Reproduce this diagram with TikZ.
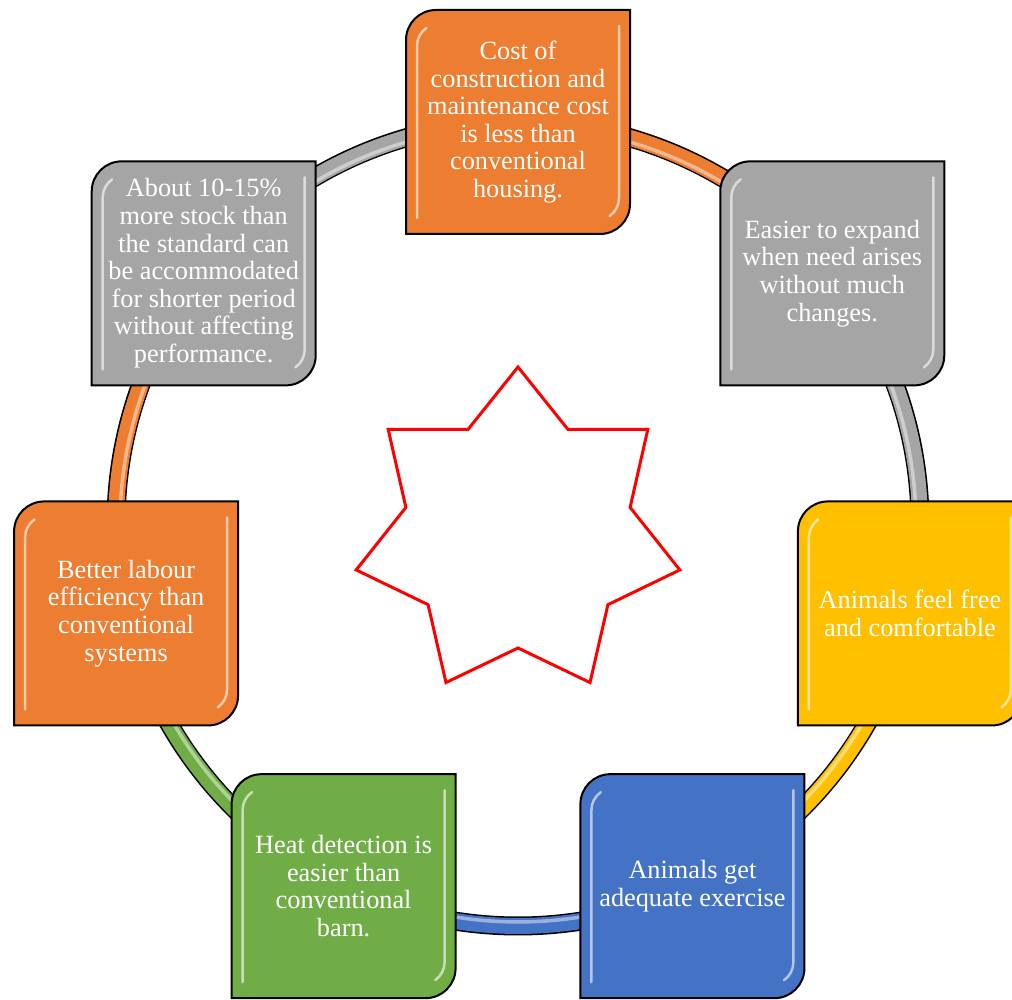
\documentclass[tikz,border=0pt]{standalone}
\usepackage{fontspec}
\setmainfont{Liberation Serif}
\usetikzlibrary{calc}
\definecolor{corange}{HTML}{ED7D31}
\definecolor{cgray}{HTML}{A5A5A5}
\definecolor{cyellow}{HTML}{FFC000}
\definecolor{cblue}{HTML}{4472C4}
\definecolor{cgreen}{HTML}{70AD47}
\tikzset{
  boxtext/.style={align=center, text=white, font=\fontsize{26.3}{27.6}\selectfont, inner sep=0pt},
  boxshape/.style={draw=black, line width=2pt},
  gloss/.style={draw=white, opacity=0.6, line width=2.5pt, line cap=round},
  ringout/.style={draw=black, line width=19pt},
  ringseg/.style={line width=16pt},
  ringhi/.style={draw=white, opacity=0.45, line width=3.5pt},
  starline/.style={draw=red, line width=3pt, line join=miter}
}
\begin{document}
\begin{tikzpicture}[x=1pt,y=1pt]
\clip (0,0) rectangle (1012,1000);
\fill[white] (0,0) rectangle (1012,1000);
\coordinate (C) at (518,476);
% ring
\draw[ringout] (C) circle[radius=402];
\foreach \k/\col in {0/corange,1/cgray,2/cyellow,3/cblue,4/cgreen,5/corange,6/cgray}{
  \pgfmathsetmacro\a{90-\k*360/7}
  \pgfmathsetmacro\b{\a-360/7}
  \draw[ringseg,\col] ($(C)+(\a:402)$) arc[start angle=\a, end angle=\b, radius=402];
  \draw[ringhi] ($(C)+(\a:398)$) arc[start angle=\a, end angle=\b, radius=398];
}
% star
\draw[starline] plot[samples at={0,...,13}, variable=\t]
  ({518+(166-51*mod(\t,2))*cos(90+\t*360/14)},{467+(166-51*mod(\t,2))*sin(90+\t*360/14)}) -- cycle;
% boxes
\foreach \k/\col/\txt in {
  0/corange/{Cost of\\construction and\\maintenance cost\\is less than\\conventional\\housing.},
  1/cgray/{Easier to expand\\when need arises\\without much\\changes.},
  2/cyellow/{Animals feel free\\and comfortable},
  3/cblue/{Animals get\\adequate exercise},
  4/cgreen/{Heat detection is\\easier than\\conventional\\barn.},
  5/corange/{Better labour\\efficiency than\\conventional\\systems},
  6/cgray/{About 10-15\%\\more stock than\\the standard can\\be accommodated\\for shorter period\\without affecting\\performance.}}{
  \pgfmathsetmacro\a{90-\k*360/7}
  \coordinate (p\k) at ($(C)+(\a:402)$);
  \path[boxshape, fill=\col] ($(p\k)+(-112,-112)$) -- ($(p\k)+(-112,82)$)
     arc[start angle=180, end angle=90, radius=30] -- ($(p\k)+(112,112)$)
     -- ($(p\k)+(112,-82)$) arc[start angle=0, end angle=-90, radius=30] -- cycle;
  \draw[gloss] ($(p\k)+(-101,-96)$) -- ($(p\k)+(-101,76)$) arc[start angle=180, end angle=125, radius=22];
  \draw[gloss] ($(p\k)+(101,96)$) -- ($(p\k)+(101,-76)$) arc[start angle=0, end angle=-55, radius=22];
  \node[boxtext] (b\k) at (p\k) {\txt};
}
\end{tikzpicture}
\end{document}
